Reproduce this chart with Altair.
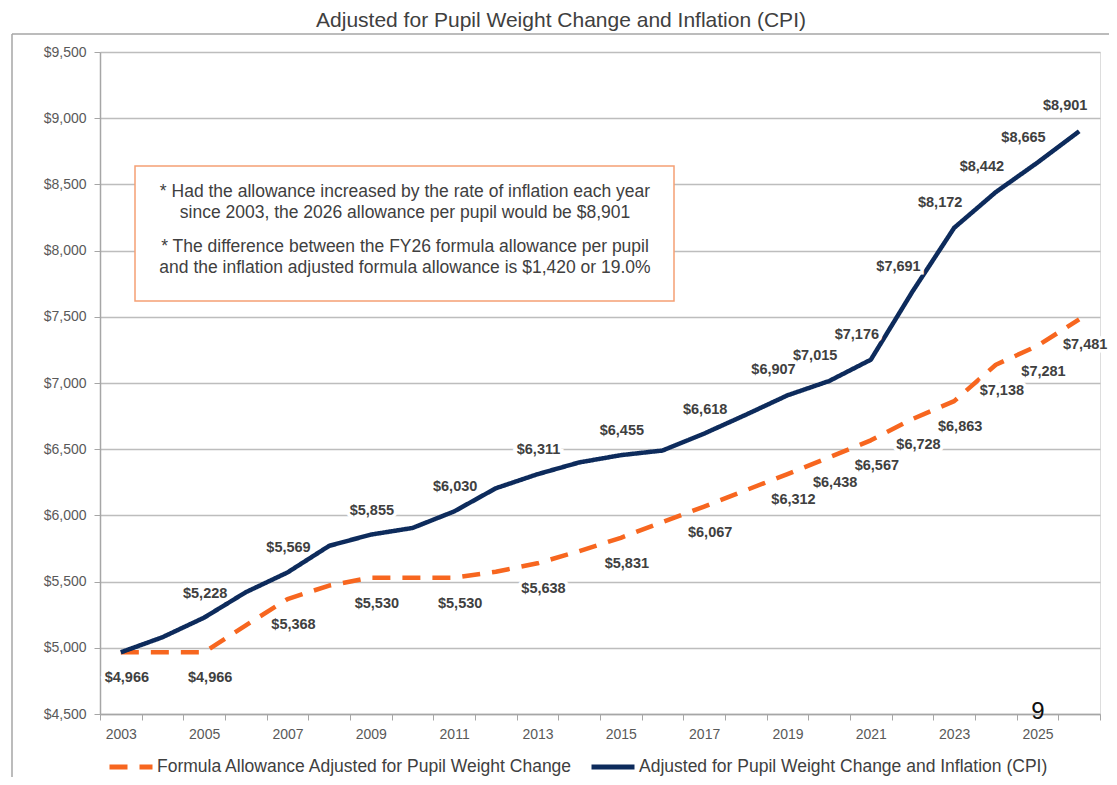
import altair as alt
import pandas as pd

# ---------------- data ----------------
years = list(range(2003, 2027))
formula = [4966, 4966, 4966, 5170, 5368, 5470, 5530, 5530, 5530, 5575, 5638, 5730,
           5831, 5950, 6067, 6190, 6312, 6438, 6567, 6728, 6863, 7138, 7281, 7481]
cpi = [4966, 5080, 5228, 5420, 5569, 5770, 5855, 5905, 6030, 6205, 6311, 6400,
       6455, 6490, 6618, 6760, 6907, 7015, 7176, 7691, 8172, 8442, 8665, 8901]
# which points carry a value label
formula_labeled = [2003, 2005, 2007, 2009, 2011, 2013, 2015, 2017,
                   2019, 2020, 2021, 2022, 2023, 2024, 2025, 2026]
cpi_labeled = [2005, 2007, 2009, 2011, 2013, 2015, 2017,
               2019, 2020, 2021, 2022, 2023, 2024, 2025, 2026]
series_names = ["Formula Allowance Adjusted for Pupil Weight Change",
                "Adjusted for Pupil Weight Change and Inflation (CPI)"]
y_ticks = list(range(4500, 10000, 500))
x_ticks = [y - 0.5 for y in years] + [2026.5]
title_text = "Adjusted for Pupil Weight Change and Inflation (CPI)"
note_lines = ["* Had the allowance increased by the rate of inflation each year",
              "since 2003, the 2026 allowance per pupil would be $8,901",
              "* The difference between the FY26 formula allowance per pupil",
              "and the inflation adjusted formula allowance is $1,420 or 19.0%"]

rows = []
for y, v in zip(years, formula):
    rows.append({"year": y, "series": series_names[0], "value": v,
                 "lab": y in formula_labeled})
for y, v in zip(years, cpi):
    rows.append({"year": y, "series": series_names[1], "value": v,
                 "lab": y in cpi_labeled})
df = pd.DataFrame(rows)

# ---------------- style ----------------
ORANGE = "#F7661F"
NAVY = "#0D2B5C"
TXT = "#404040"
AX = "#595959"
GRID = "#BDBDBD"
FONT = "Liberation Sans, Arial, sans-serif"

W, H = 1000, 662

xscale = alt.Scale(domain=[2002.5, 2026.5], nice=False, zero=False)
yscale = alt.Scale(domain=[4500, 9500], nice=False, zero=False)

legend_cfg = dict(title=None, orient="none", legendX=7, legendY=691,
                  direction="horizontal", symbolType="stroke",
                  symbolSize=1849, symbolStrokeWidth=5,
                  labelFont=FONT, labelFontSize=17.5, labelColor=TXT,
                  labelLimit=0, labelOffset=2, columnPadding=7)

base = alt.Chart(df)

lines = base.mark_line(strokeWidth=4.5, strokeCap="butt", strokeJoin="round").encode(
    x=alt.X("year:Q", scale=xscale, title=None,
            axis=alt.Axis(values=x_ticks, grid=False, tickSize=6, labelPadding=7,
                          labelOffset=20.8, labelFlush=False, labelOverlap=False,
                          labelExpr="((datum.value + 0.5) % 2 == 1 && datum.value < 2025.9) ? format(datum.value + 0.5, 'd') : ''",
                          labelFont=FONT, labelFontSize=14, labelColor=AX,
                          domainColor="#A6A6A6", tickColor="#A6A6A6", domainWidth=1.5)),
    y=alt.Y("value:Q", scale=yscale, title=None,
            axis=alt.Axis(values=y_ticks, format="$,d", grid=True, gridColor=GRID,
                          gridWidth=1.3, tickSize=6, labelPadding=8,
                          labelFont=FONT, labelFontSize=14, labelColor=AX,
                          domainColor="#A6A6A6", tickColor="#A6A6A6", domainWidth=1.5)),
    color=alt.Color("series:N", scale=alt.Scale(domain=series_names, range=[ORANGE, NAVY]),
                    legend=alt.Legend(**legend_cfg)),
    strokeDash=alt.StrokeDash("series:N",
                              scale=alt.Scale(domain=series_names, range=[[18, 12], [1, 0]]),
                              legend=alt.Legend(**legend_cfg)),
    order="year:Q",
)


def labels(filter_expr, dx, dy):
    common = dict(font=FONT, fontSize=14.5, fontWeight="bold", align="center",
                  baseline="middle", dx=dx, dy=dy)
    enc = dict(x=alt.X("year:Q", scale=xscale), y=alt.Y("value:Q", scale=yscale),
               text=alt.Text("value:Q", format="$,d"))
    halo = base.transform_filter(filter_expr).mark_text(
        stroke="white", strokeWidth=7, fill="white", **common).encode(**enc)
    txt = base.transform_filter(filter_expr).mark_text(fill=TXT, **common).encode(**enc)
    return halo + txt


s0 = series_names[0]
s1 = series_names[1]
lab_f = labels(f"datum.lab && datum.series == '{s0}'", 6, 26)
lab_c1 = labels(f"datum.lab && datum.series == '{s1}' && datum.year < 2019", 1, -24)
lab_c2 = labels(f"datum.lab && datum.series == '{s1}' && datum.year >= 2019", -14, -25)

one = pd.DataFrame({"a": [0]})

# frame around slide chart area
frame_top = alt.Chart(one).mark_rule(color="#A6A6A6", strokeWidth=1.5).encode(
    x=alt.value(-88), x2=alt.value(1010), y=alt.value(-18))
frame_left = alt.Chart(one).mark_rule(color="#A6A6A6", strokeWidth=1.5).encode(
    x=alt.value(-88), y=alt.value(-18), y2=alt.value(740))

title = alt.Chart(one).mark_text(
    text=title_text, font=FONT, fontSize=21, color=TXT, align="center", baseline="middle"
).encode(x=alt.value(461), y=alt.value(-31))

box = alt.Chart(one).mark_rect(
    fill="white", stroke="#F5A074", strokeWidth=1.5
).encode(x=alt.value(35), x2=alt.value(574), y=alt.value(114), y2=alt.value(249))

note_y = [140, 161, 195, 216]
notes = [alt.Chart(one).mark_text(
    text=t, font=FONT, fontSize=17.5, color=TXT, align="center", baseline="middle"
).encode(x=alt.value(305), y=alt.value(yy)) for t, yy in zip(note_lines, note_y)]

page_num = alt.Chart(one).mark_text(
    text="9", font=FONT, fontSize=24, color="#111111", align="center", baseline="middle"
).encode(x=alt.value(938), y=alt.value(660))

chart = alt.layer(
    frame_top, frame_left, title, box, *notes, lines, lab_f, lab_c1, lab_c2, page_num
).properties(
    width=W, height=H,
    autosize=alt.AutoSizeParams(type="none"),
    padding={"left": 92, "top": 44, "right": 9, "bottom": 63},
).configure_view(stroke=None).configure(background="white")

chart.save("out.html", embed_options={"renderer": "svg", "actions": False})
